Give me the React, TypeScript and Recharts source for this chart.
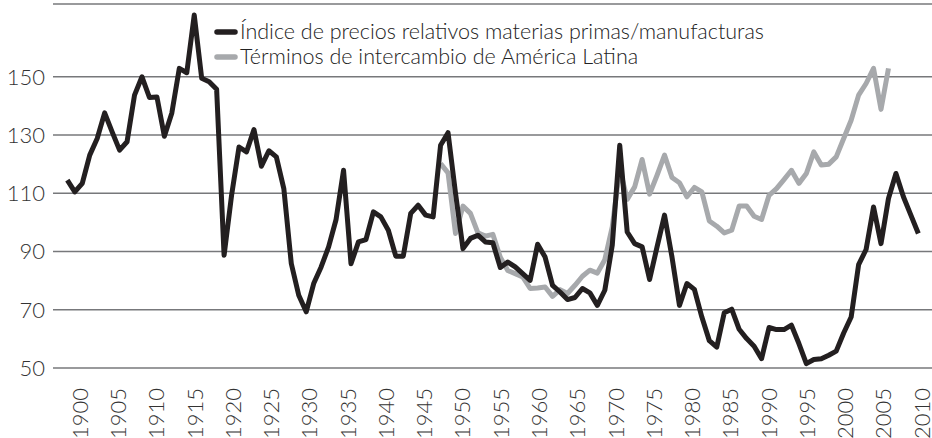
import React from 'react';
import { LineChart, Line, XAxis, YAxis, CartesianGrid } from 'recharts';

// Índice de precios relativos materias primas/manufacturas, 1900-2014
const indice = [
  114.5, 110.5, 113.4, 123.1, 128.8, 137.6, 131.1, 124.8, 127.7, 143.7,
  150.0, 142.9, 143.1, 129.6, 137.6, 152.9, 151.4, 171.2, 149.5, 148.3,
  145.7, 88.7, 109.3, 125.9, 124.2, 131.9, 119.3, 124.6, 122.5, 111.6,
  85.9, 75.0, 69.3, 79.0, 84.7, 91.6, 101.0, 117.9, 85.8, 93.3,
  94.1, 103.6, 101.9, 97.3, 88.4, 88.4, 103.1, 105.9, 102.5, 101.9,
  126.5, 130.8, 110.0, 91.0, 94.5, 95.6, 93.3, 93.0, 84.5, 86.4,
  84.7, 82.4, 80.1, 92.5, 88.1, 78.4, 76.1, 73.5, 74.2, 77.3,
  75.8, 71.5, 76.7, 92.2, 126.5, 96.7, 92.7, 91.6, 80.4, 91.6,
  102.5, 88.1, 71.5, 79.0, 77.0, 67.5, 59.4, 57.2, 69.0, 70.2,
  63.3, 60.1, 57.5, 53.2, 63.9, 63.2, 63.2, 64.7, 58.4, 51.5,
  52.9, 53.2, 54.4, 55.8, 62.0, 67.5, 85.5, 90.7, 105.3, 92.7,
  108.2, 116.8, 108.8, 102.5, 96.2,
];
const indiceStart = 1900;

// Términos de intercambio de América Latina, 1950-2010
const terminos = [
  120.2, 117.0, 96.2, 105.6, 103.1, 96.4, 95.3, 95.9, 88.0, 83.5,
  82.4, 81.3, 77.3, 77.5, 77.8, 74.6, 76.9, 75.6, 78.4, 81.5,
  83.6, 82.6, 87.2, 98.5, 118.5, 107.9, 112.2, 121.6, 109.7, 116.2,
  123.1, 115.4, 113.6, 108.8, 112.0, 110.5, 100.5, 98.7, 96.4, 97.3,
  105.6, 105.6, 102.1, 101.0, 109.3, 111.6, 114.7, 117.9, 113.4, 116.8,
  124.2, 119.7, 120.0, 122.5, 128.8, 135.1, 143.7, 147.7, 152.9, 138.8,
  152.9,
];
const terminosStart = 1950;

const tickYears = [
  1900, 1905, 1910, 1915, 1920, 1925, 1930, 1935, 1940, 1945, 1950, 1955,
  1960, 1965, 1970, 1975, 1980, 1985, 1990, 1995, 2000, 2005, 2010,
];
const yTicks = [50, 70, 90, 110, 130, 150];

const seriesNames = [
  'Índice de precios relativos materias primas/manufacturas',
  'Términos de intercambio de América Latina',
];

const BLACK = '#231f20';
const GREY = '#a7a9ac';
const FONT = 'Lato, "Open Sans", sans-serif';

const data = indice.map((v, i) => {
  const year = indiceStart + i;
  const j = year - terminosStart;
  return {
    year,
    indice: v,
    terminos: j >= 0 && j < terminos.length ? terminos[j] : null,
  };
});

// the original's year labels are spread a bit wider than the yearly points,
// so place them on their own linear span and map it into the data domain
const dataDomain = [1898.08, 2015.83];
const labelDomain = [1896.47, 2011.3];
const tickPos = tickYears.map(
  (t) =>
    dataDomain[0] +
    ((t - labelDomain[0]) / (labelDomain[1] - labelDomain[0])) *
      (dataDomain[1] - dataDomain[0])
);

function YearTick({ x, y, index }: any) {
  const top = y + 12;
  return (
    <text
      x={x}
      y={top}
      transform={`rotate(-90 ${x} ${top})`}
      textAnchor="end"
      dy="0.35em"
      fontFamily={FONT}
      fontWeight={300}
      fontSize={22}
      fill="#333"
    >
      {tickYears[index]}
    </text>
  );
}

function LegendBox() {
  const colors = [BLACK, GREY];
  return (
    <div style={{ position: 'absolute', left: 214, top: 19, fontFamily: FONT, fontWeight: 300, fontSize: 21.5, color: '#222', lineHeight: '25px' }}>
      {seriesNames.map((name, i) => (
        <div key={name} style={{ display: 'flex', alignItems: 'center', whiteSpace: 'nowrap' }}>
          <svg width={24} height={10} style={{ marginRight: 2 }}>
            <line x1={3} y1={5} x2={21} y2={5} stroke={colors[i]} strokeWidth={5.5} strokeLinecap="round" />
          </svg>
          {name}
        </div>
      ))}
    </div>
  );
}

export default function App() {
  return (
    <div style={{ position: 'absolute', left: 0, top: 0, width: 932, height: 438, background: '#fff' }}>
      <LineChart width={932} height={438} data={data} margin={{ top: 4, right: 0, bottom: 0, left: 0 }}>
        <CartesianGrid vertical={false} stroke="#77787b" strokeWidth={1.5} />
        <XAxis
          dataKey="year"
          type="number"
          domain={dataDomain}
          allowDataOverflow
          ticks={tickPos}
          interval={0}
          height={70}
          axisLine={false}
          tickLine={false}
          tick={<YearTick />}
        />
        <YAxis
          domain={[50, 175]}
          ticks={yTicks}
          allowDataOverflow
          width={53}
          axisLine={false}
          tickLine={false}
          tick={{ fontFamily: FONT, fontWeight: 300, fontSize: 22, fill: '#333' }}
        />
        <Line
          dataKey="terminos"
          stroke={GREY}
          strokeWidth={5}
          strokeLinejoin="round"
          dot={false}
          connectNulls={false}
          isAnimationActive={false}
        />
        <Line
          dataKey="indice"
          stroke={BLACK}
          strokeWidth={5}
          strokeLinejoin="round"
          dot={false}
          isAnimationActive={false}
        />
      </LineChart>
      <LegendBox />
    </div>
  );
}
